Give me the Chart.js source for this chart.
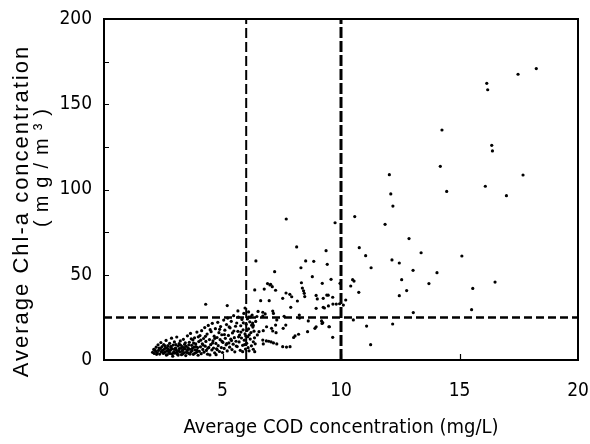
<!DOCTYPE html>
<html>
<head>
<meta charset="utf-8">
<script src="https://cdn.jsdelivr.net/npm/chart.js@4.4.0/dist/chart.umd.min.js"></script>
<style>
    html, body { margin: 0; padding: 0; background: #fff; }
    #wrap { width: 590px; height: 444px; }
</style>
</head>
<body>
<div id="wrap"><canvas id="cod-chl-chart"></canvas></div>
<script>
// Axis settings
const codTicks = [0, 5, 10, 15, 20];
const chlTicks = [0, 50, 100, 150, 200];

// Threshold lines (COD mg/L, Chl-a mg/m3)
const codThresholds = [6, 10];
const chlThresholds = [25];

// Dense cluster, COD 2 - 4 mg/L  [COD, Chl-a]
const lowCluster = [
    [2.05,4.5],[2.1,6.2],[2.12,3.8],[2.18,5.1],[2.2,7.5],[2.25,4.2],[2.28,8.9],[2.3,5.6],[2.35,3.5],[2.38,6.8],
    [2.4,10.2],[2.42,4.9],[2.45,7.9],[2.48,5.8],[2.5,3.9],[2.52,9.1],[2.55,6.4],[2.57,4.6],[2.6,7.2],[2.62,11.5],
    [2.65,5.3],[2.67,3.2],[2.7,8.4],[2.72,6.1],[2.75,4.4],[2.77,9.8],[2.8,5.7],[2.82,7.4],[2.85,12.8],[2.86,3.6],
    [2.88,6.6],[2.9,2.2],[2.92,8.8],[2.95,5.0],[2.97,10.6],[3.0,4.1],[3.02,7.0],[3.05,6.0],[3.07,13.5],[3.1,3.4],
    [3.12,8.2],[3.15,5.4],[3.17,9.6],[3.2,4.7],[3.22,11.2],[3.25,6.9],[3.27,3.1],[3.3,7.8],[3.32,5.9],[3.35,12.1],
    [3.37,4.3],[3.4,9.2],[3.42,6.5],[3.45,2.6],[3.47,8.0],[3.5,5.2],[3.52,14.2],[3.55,7.1],[3.57,3.9],[3.6,10.4],
    [3.62,6.3],[3.65,15.6],[3.67,4.8],[3.7,8.6],[3.72,5.5],[3.75,11.8],[3.77,3.3],[3.8,7.6],[3.82,13.0],[3.85,6.0],
    [3.87,9.4],[3.9,4.5],[3.92,16.4],[3.95,7.3],[3.97,2.8],[4.0,10.8],
    [2.15,5.9],[2.22,3.3],[2.33,7.0],[2.44,5.2],[2.53,4.1],[2.58,8.3],[2.63,2.9],[2.68,6.9],[2.73,5.0],[2.78,3.8],
    [2.83,8.0],[2.93,4.0],[2.98,6.4],[3.03,9.0],[3.08,4.9],[3.13,2.9],[3.18,6.7],[3.23,8.7],[3.28,5.1],[3.33,3.6],
    [3.38,7.2],[3.43,10.1],[3.48,4.4],[3.53,6.1],[3.58,8.9],[3.63,3.5],[3.68,12.4],[3.73,6.8],[3.78,9.9],[3.83,4.0],
    [3.88,7.9],[3.93,5.7],[3.98,13.6]
];

// Dense cluster, COD 4 - 6.4 mg/L
const midCluster = [
    [4.02,5.1],[4.05,14.3],[4.07,7.7],[4.1,3.7],[4.12,17.2],[4.15,9.5],[4.17,6.2],[4.2,12.6],[4.22,4.6],[4.25,19.0],
    [4.27,8.1],[4.3,10.9],[4.32,5.6],[4.35,15.2],[4.37,3.4],[4.4,20.3],[4.42,7.4],[4.45,12.0],[4.47,3.0],[4.5,9.0],
    [4.52,16.6],[4.55,5.9],[4.57,21.5],[4.6,11.3],[4.62,7.0],[4.65,14.0],[4.67,4.2],[4.7,18.4],[4.72,9.7],[4.73,3.1],
    [4.75,6.6],[4.77,13.2],[4.8,22.1],[4.82,8.4],[4.85,16.0],[4.87,5.0],[4.9,11.9],[4.92,19.6],[4.95,7.3],[4.97,14.8],
    [5.0,4.4],[5.02,10.3],[5.05,23.4],[5.07,6.8],[5.1,17.5],[5.12,12.7],[5.15,8.9],[5.17,20.8],[5.2,5.3],[5.22,24.6],
    [5.25,14.4],[5.27,10.0],[5.3,7.5],[5.32,18.9],[5.35,12.2],[5.37,22.7],[5.4,6.1],[5.42,15.9],[5.45,9.3],[5.47,26.0],
    [5.5,13.1],[5.52,4.8],[5.55,19.8],[5.57,11.0],[5.6,21.7],[5.62,7.9],[5.65,16.8],[5.67,25.2],[5.7,10.6],[5.72,14.6],
    [5.75,5.7],[5.77,20.1],[5.8,12.9],[5.82,23.8],[5.85,8.6],[5.87,17.7],[5.9,27.3],[5.92,11.6],[5.95,15.3],[5.97,6.4],
    [6.0,21.0],[6.02,9.8],[6.05,24.1],[6.07,13.7],[6.1,18.2],[6.12,5.4],[6.15,22.4],[6.17,12.3],[6.2,16.1],[6.22,8.3],
    [6.25,26.4],[6.28,19.3],[6.3,10.7],
    [4.08,11.6],[4.18,8.8],[4.28,13.9],[4.38,6.9],[4.48,17.8],[4.58,9.9],[4.68,12.7],[4.78,6.0],[4.88,18.0],[4.98,10.9],
    [5.08,14.9],[5.18,9.6],[5.28,19.4],[5.38,11.4],[5.48,17.0],[5.58,8.2],[5.68,13.6],[5.78,16.4],[5.88,21.8],[5.98,14.1],
    [6.08,7.2],[6.18,25.3],[5.85,4.9],[5.93,9.0],[6.03,17.3],[6.13,14.8],[6.23,20.4],[6.3,6.3],[6.35,13.0],[6.4,22.6],
    [6.33,16.9],[6.38,9.5],[4.29,32.7],[5.2,31.9],[5.65,28.8],[5.95,30.5],[6.1,28.2]
];

// Scattered stations, COD 6.3 - 10 mg/L
const upperScatter = [
    [6.41,58.1],[7.69,82.7],[8.13,66.3],[8.51,58.1],[8.85,57.9],[8.31,54.1],[7.2,51.8],[8.79,48.9],[8.33,45.3],[7.03,44.4],
    [7.1,43.0],[6.36,41.1],[6.76,41.6],[7.24,40.9],[8.37,42.2],[8.42,40.6],[8.45,39.1],[8.47,37.2],[7.68,39.3],[7.84,38.5],
    [7.92,37.1],[7.54,36.2],[8.95,37.9],[9.0,35.8],[6.61,34.8],[6.97,34.8],[8.16,34.6],[7.88,30.9],[8.95,30.3],[6.5,28.5],
    [6.7,28.0],[6.8,27.0],[7.12,28.7],[7.15,27.3],[6.1,25.2],[6.45,25.5],[6.7,25.8],[7.6,25.6],[8.24,26.4],[8.25,24.6],
    [8.62,22.9],[9.18,22.9],[9.2,21.4],[7.29,23.5],[6.27,21.7],[6.3,20.3],[6.86,19.5],[7.24,20.5],[7.56,18.6],[7.67,20.5],
    [8.95,19.5],[9.51,19.5],[6.54,16.6],[6.72,17.2],[7.07,18.6],[7.12,17.0],[7.26,16.0],[6.47,14.7],[8.59,16.6],[8.9,18.6],
    [8.06,14.1],[8.0,13.2],[8.21,15.1],[6.7,11.7],[6.85,11.2],[6.95,11.0],[7.05,10.6],[7.15,10.0],[6.72,9.4],[7.29,9.4],
    [7.54,7.8],[7.7,7.6],[7.85,7.8],[9.65,13.3],[6.36,4.9],[6.9,44.8],[7.0,44.0]
];

// Sparse stations, COD > 9 mg/L
const highScatter = [
    [9.75,80.5],[9.37,64.1],[9.42,56.1],[9.58,47.3],[9.21,45.0],[9.96,45.0],[9.4,38.1],[9.46,38.0],[9.65,36.8],[9.25,36.2],
    [10.2,35.2],[9.25,30.9],[9.3,30.5],[9.47,31.7],[9.66,32.8],[9.8,32.8],[9.94,33.0],[10.1,32.2],[9.23,21.9],[9.49,19.5],
    [10.52,23.5],[11.08,19.9],[12.18,21.1],[11.25,9.0],[10.58,84.1],[11.86,79.6],[12.1,97.4],[12.19,90.3],[12.04,108.7],[10.77,65.9],
    [11.04,61.2],[11.27,54.1],[10.49,47.1],[10.55,46.3],[10.41,43.4],[10.75,39.7],[12.87,71.2],[13.38,62.9],[12.15,58.7],[12.46,56.9],
    [13.04,52.6],[14.05,51.2],[12.56,47.1],[13.71,44.8],[12.77,40.7],[12.46,37.7],[13.05,27.8],[14.26,134.9],[14.19,113.6],[14.46,98.9],
    [15.1,61.0],[15.56,42.0],[15.51,29.5],[16.5,45.7],[16.09,101.9],[16.98,96.4],[17.68,108.5],[16.36,125.9],[16.39,122.6],[16.15,162.3],
    [16.19,158.5],[17.47,167.6],[18.24,170.9]
];

const FONT_NARROW = '"DejaVu Sans Condensed", "DejaVu Sans", sans-serif';
const FONT_SANS = '"Liberation Sans", Arial, sans-serif';

const toPoints = rows => rows.map(r => ({ x: r[0], y: r[1] }));

const yRange = [chlTicks[0], chlTicks[chlTicks.length - 1]];
const xRange = [codTicks[0], codTicks[codTicks.length - 1]];

// threshold line datasets, built from the threshold arrays
const thresholdSets = [];
codThresholds.forEach((v, i) => {
    thresholdSets.push({
        type: 'line',
        data: [{ x: v, y: yRange[0] }, { x: v, y: yRange[1] }],
        borderColor: '#000',
        borderWidth: i === 0 ? 2 : 3,
        borderDash: i === 0 ? [10, 4] : [11, 3],
        pointRadius: 0,
        fill: false
    });
});
chlThresholds.forEach(v => {
    thresholdSets.push({
        type: 'line',
        data: [{ x: xRange[0], y: v }, { x: xRange[1], y: v }],
        borderColor: '#000',
        borderWidth: 2.5,
        borderDash: [8, 4],
        pointRadius: 0,
        fill: false
    });
});

// frame, inward ticks and the y axis title
const framePlugin = {
    id: 'frame',
    afterDraw(chart) {
        const { ctx, chartArea: a, scales } = chart;
        ctx.save();
        ctx.strokeStyle = '#000';
        ctx.lineWidth = 2;
        ctx.strokeRect(a.left, a.top, a.right - a.left, a.bottom - a.top);

        ctx.lineWidth = 1.2;
        ctx.beginPath();
        scales.y.ticks.forEach(t => {
            if (t.value <= yRange[0] || t.value >= yRange[1]) return;
            const py = Math.round(scales.y.getPixelForValue(t.value)) + 0.5;
            ctx.moveTo(a.left, py);
            ctx.lineTo(a.left + 5, py);
        });
        scales.x.ticks.forEach(t => {
            if (t.value <= xRange[0] || t.value >= xRange[1]) return;
            const px = Math.round(scales.x.getPixelForValue(t.value)) + 0.5;
            ctx.moveTo(px, a.bottom);
            ctx.lineTo(px, a.bottom - 6);
        });
        ctx.stroke();

        // y axis title, two lines
        ctx.fillStyle = '#000';
        ctx.textAlign = 'center';
        ctx.textBaseline = 'middle';
        ctx.translate(22, 211);
        ctx.rotate(-Math.PI / 2);
        ctx.font = '22px ' + FONT_SANS;
        ctx.letterSpacing = '2px';
        ctx.fillText('Average Chl-a concentration', 0, 0);
        ctx.letterSpacing = '8px';
        ctx.font = '20px ' + FONT_SANS;
        ctx.fillText('(mg/m³)', 47, 20);
        ctx.restore();
    }
};

new Chart(document.getElementById('cod-chl-chart'), {
    type: 'scatter',
    data: {
        datasets: [
            {
                data: toPoints([...lowCluster, ...midCluster, ...upperScatter, ...highScatter]),
                backgroundColor: '#000',
                borderColor: '#000',
                borderWidth: 0,
                pointRadius: 1.6,
                pointHoverRadius: 1.6
            },
            ...thresholdSets
        ]
    },
    options: {
        responsive: true,
        maintainAspectRatio: false,
        animation: false,
        layout: { padding: { top: 19, right: 12, left: 0, bottom: 0 } },
        plugins: {
            legend: { display: false },
            tooltip: { enabled: false }
        },
        scales: {
            x: {
                type: 'linear',
                min: xRange[0],
                max: xRange[1],
                grid: { display: false, drawTicks: false },
                border: { display: false },
                ticks: {
                    stepSize: 5,
                    padding: 20,
                    color: '#000',
                    maxRotation: 0,
                    font: { family: FONT_NARROW, size: 19 }
                },
                title: {
                    display: true,
                    text: 'Average COD concentration (mg/L)',
                    color: '#000',
                    padding: { top: 0, bottom: 4 },
                    font: { family: FONT_NARROW, size: 20 }
                },
                afterFit: s => {
                    s.height = 84;
                    s.paddingLeft = 0;
                    s.paddingRight = 0;
                }
            },
            y: {
                type: 'linear',
                min: yRange[0],
                max: yRange[1],
                grid: { display: false, drawTicks: false },
                border: { display: false },
                ticks: {
                    stepSize: 25,
                    padding: 12,
                    color: '#000',
                    font: { family: FONT_NARROW, size: 19 },
                    callback: v => (chlTicks.includes(v) ? v : '')
                },
                afterFit: s => {
                    s.width = 104;
                    s.paddingTop = 0;
                    s.paddingBottom = 0;
                }
            }
        }
    },
    plugins: [framePlugin]
});
</script>
</body>
</html>
